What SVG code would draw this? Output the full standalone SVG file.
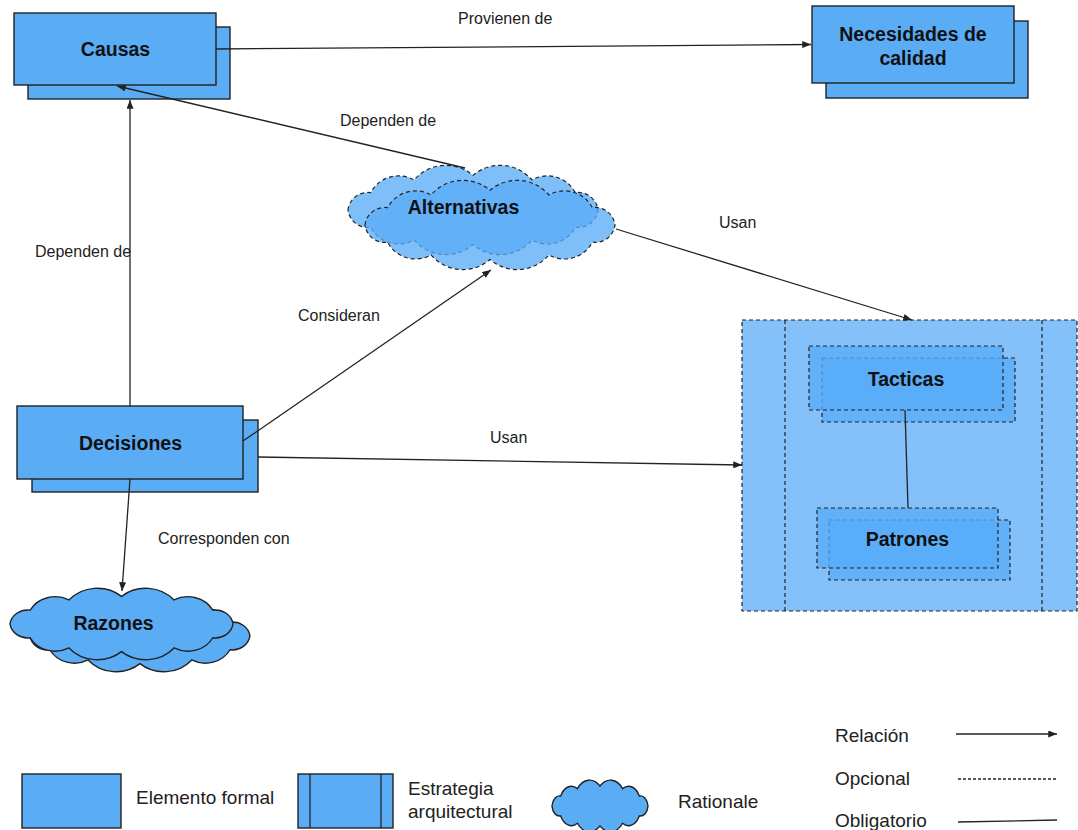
<svg xmlns="http://www.w3.org/2000/svg" xmlns:xlink="http://www.w3.org/1999/xlink" width="1078" height="830" viewBox="0 0 1078 830">
  <style>
    .formal { fill: #5aacf5; stroke: #222; stroke-width: 1.4; }
    .strategy { fill: #84c1fb; stroke: #222; stroke-width: 1.2; stroke-dasharray: 4 3; }
    .opt { fill: #59acf7; fill-opacity: 0.77; stroke: #222; stroke-width: 1.2; stroke-dasharray: 4 3; }
    .cloud-opt { fill: #59acf7; fill-opacity: 0.77; stroke: #222; stroke-width: 1.2; stroke-dasharray: 4 3; }
    .cloud { fill: #5aacf5; stroke: #222; stroke-width: 1.4; }
    .edge { fill: none; stroke: #222; stroke-width: 1.3; }
    .title { font-family: "Liberation Sans", Arial, sans-serif; font-weight: bold; font-size: 19.5px; fill: #111; text-anchor: middle; }
    .lbl { font-family: "Liberation Sans", Arial, sans-serif; font-size: 16px; fill: #222; }
    .leg { font-family: "Liberation Sans", Arial, sans-serif; font-size: 19px; fill: #222; }
  </style>
  <defs>
    <marker id="arrow" viewBox="0 0 10 8" refX="10" refY="4" markerWidth="9" markerHeight="7" markerUnits="userSpaceOnUse" orient="auto">
      <path d="M0,0 L10,4 L0,8 Z" fill="#222"/>
    </marker>
    <!-- cloud outline in a 12..288 x 0.5..99.5 box -->
    <path id="cloudShape" vector-effect="non-scaling-stroke" d="M12,50 A22,22 0 0 1 37,31 A35,35 0 0 1 85,17 A46,46 0 0 1 150,12 A46,46 0 0 1 215,17 A35,35 0 0 1 263,31 A22,22 0 0 1 288,50 A22,22 0 0 1 263,69 A35,35 0 0 1 215,83 A46,46 0 0 1 150,88 A46,46 0 0 1 85,83 A35,35 0 0 1 37,69 A22,22 0 0 1 12,50 Z"/>
  </defs>

  <rect width="1078" height="830" fill="#ffffff"/>

  <!-- architectural strategy container -->
  <g id="estrategia">
    <rect class="strategy" x="742" y="320" width="335" height="291"/>
    <line class="strategy" x1="785" y1="320" x2="785" y2="611"/>
    <line class="strategy" x1="1042" y1="320" x2="1042" y2="611"/>
  </g>

  <g id="causas">
    <rect class="formal" x="28" y="27" width="202" height="72"/>
    <rect class="formal" x="14" y="13" width="202" height="72"/>
    <text class="title" x="115.5" y="56">Causas</text>
  </g>

  <g id="necesidades">
    <rect class="formal" x="826" y="21" width="202" height="77"/>
    <rect class="formal" x="812" y="6" width="202" height="77"/>
    <text class="title" x="913" y="41">Necesidades de</text>
    <text class="title" x="913" y="65">calidad</text>
  </g>

  <g id="alternativas">
    <use xlink:href="#cloudShape" class="cloud-opt" transform="translate(337.1,164.5) scale(0.906,0.909)"/>
    <use xlink:href="#cloudShape" class="cloud-opt" transform="translate(354.1,179.5) scale(0.906,0.909)"/>
    <text class="title" x="463.5" y="214">Alternativas</text>
  </g>

  <g id="decisiones">
    <rect class="formal" x="32" y="420" width="226" height="72"/>
    <rect class="formal" x="17" y="406" width="226" height="73"/>
    <text class="title" x="130.5" y="450">Decisiones</text>
  </g>

  <g id="razones">
    <use xlink:href="#cloudShape" class="cloud" transform="translate(20.4,599.6) scale(0.797,0.727)"/>
    <use xlink:href="#cloudShape" class="cloud" transform="translate(0.3,587.6) scale(0.808,0.727)"/>
    <text class="title" x="113.5" y="630">Razones</text>
  </g>

  <g id="tacticas">
    <rect class="opt" x="822" y="358" width="193" height="64"/>
    <rect class="opt" x="809" y="346" width="194" height="64"/>
    <text class="title" x="906" y="386">Tacticas</text>
  </g>

  <g id="patrones">
    <rect class="opt" x="829" y="520" width="181" height="60"/>
    <rect class="opt" x="817" y="508" width="181" height="60"/>
    <text class="title" x="907.5" y="546">Patrones</text>
  </g>

  <!-- connectors -->
  <g id="connectors">
    <line class="edge" x1="216" y1="49" x2="811" y2="44.5" marker-end="url(#arrow)"/>
    <line class="edge" x1="465" y1="168" x2="117" y2="86" marker-end="url(#arrow)"/>
    <line class="edge" x1="130" y1="406" x2="130" y2="100" marker-end="url(#arrow)"/>
    <line class="edge" x1="243" y1="441" x2="491" y2="270" marker-end="url(#arrow)"/>
    <line class="edge" x1="616" y1="229" x2="912" y2="320" marker-end="url(#arrow)"/>
    <line class="edge" x1="258" y1="457" x2="742" y2="465" marker-end="url(#arrow)"/>
    <line class="edge" x1="130" y1="479" x2="122" y2="591" marker-end="url(#arrow)"/>
    <line class="edge" x1="905" y1="410" x2="908" y2="508"/>
    <text class="lbl" x="458" y="24">Provienen de</text>
    <text class="lbl" x="340" y="126">Dependen de</text>
    <text class="lbl" x="35" y="257">Dependen de</text>
    <text class="lbl" x="298" y="321">Consideran</text>
    <text class="lbl" x="719" y="228">Usan</text>
    <text class="lbl" x="490" y="443">Usan</text>
    <text class="lbl" x="158" y="544">Corresponden con</text>
  </g>

  <!-- legend -->
  <g id="legend">
    <rect class="formal" x="22" y="774" width="99" height="54"/>
    <text class="leg" x="136" y="804">Elemento formal</text>
    <rect class="formal" x="298" y="774" width="95" height="54"/>
    <line class="edge" x1="310" y1="774" x2="310" y2="828"/>
    <line class="edge" x1="381" y1="774" x2="381" y2="828"/>
    <text class="leg" x="408" y="795">Estrategia</text>
    <text class="leg" x="408" y="818">arquitectural</text>
    <use xlink:href="#cloudShape" class="cloud" transform="translate(547.8,779.7) scale(0.348,0.525)"/>
    <text class="leg" x="678" y="808">Rationale</text>
    <text class="leg" x="835" y="742">Relación</text>
    <line class="edge" x1="956" y1="734" x2="1057" y2="734" marker-end="url(#arrow)"/>
    <text class="leg" x="835" y="785">Opcional</text>
    <line class="edge" x1="958" y1="779" x2="1057" y2="779" stroke-dasharray="3 2"/>
    <text class="leg" x="835" y="827">Obligatorio</text>
    <line class="edge" x1="958" y1="822" x2="1057" y2="820"/>
  </g>
</svg>
